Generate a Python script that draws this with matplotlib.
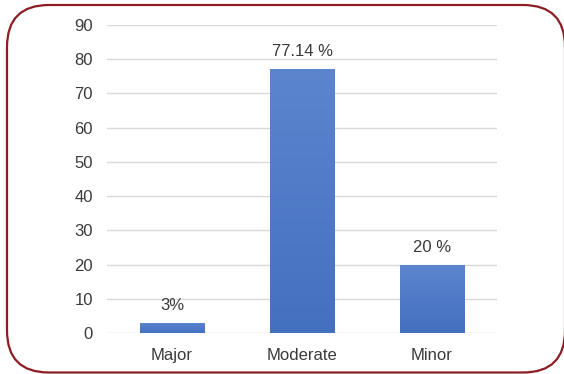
import numpy as np
import matplotlib

matplotlib.use("Agg")
import matplotlib.pyplot as plt  # noqa: E402
from matplotlib.patches import FancyBboxPatch  # noqa: E402

categories = ["Major", "Moderate", "Minor"]
values = [3, 77.14, 20]
value_labels = ["3%", "77.14 %", "20 %"]
yticks = [0, 10, 20, 30, 40, 50, 60, 70, 80, 90]

W, H = 564, 374
plt.rcParams["font.family"] = ["Liberation Sans", "DejaVu Sans"]
TXT = "#3A3A3A"

fig = plt.figure(figsize=(W / 100, H / 100), dpi=100)
fig.patch.set_facecolor("white")

# rounded dark-red frame, drawn in pixel units so the corners stay circular
bg = fig.add_axes([0, 0, 1, 1])
bg.set_xlim(0, W); bg.set_ylim(0, H); bg.axis("off")
bg.add_patch(FancyBboxPatch((7, 1.5), 558, 367.5,
                            boxstyle="round,pad=0,rounding_size=42",
                            fc="white", ec="#8C1D22", lw=1.6))

ax = fig.add_axes([107 / W, 1 - 333 / H, 390 / W, 308 / H])
ax.set_facecolor("none")
x = np.arange(len(categories))
bars = ax.bar(x, values, width=0.5, color="#4873C3", zorder=3)
# soft vertical gradient like the original bars
grad = np.linspace(0, 1, 256).reshape(-1, 1)
cmap = matplotlib.colors.LinearSegmentedColormap.from_list(
    "b", ["#4470C0", "#5C85CE"])
for b in bars:
    bx, by, bw, bh = b.get_x(), b.get_y(), b.get_width(), b.get_height()
    im = ax.imshow(grad, extent=[bx, bx + bw, by, by + bh], origin="lower",
                   cmap=cmap, aspect="auto", zorder=3)
    im.set_clip_path(b)
for xi, v, lab in zip(x, values, value_labels):
    ax.annotate(lab, (xi, v), xytext=(0, 7), textcoords="offset points",
                ha="center", va="bottom", fontsize=12, color=TXT)

ax.set_xlim(-0.5, 2.5)
ax.set_ylim(0, 90)
ax.set_yticks(yticks)
ax.set_xticks(x)
ax.set_xticklabels(categories)
ax.grid(axis="y", color="#D9D9D9", lw=1, zorder=0)
for s in ax.spines.values():
    s.set_visible(False)
ax.tick_params(axis="both", length=0, labelsize=12, colors=TXT)
ax.tick_params(axis="y", pad=10)
ax.tick_params(axis="x", pad=11)

fig.savefig("out.png", dpi=100)
